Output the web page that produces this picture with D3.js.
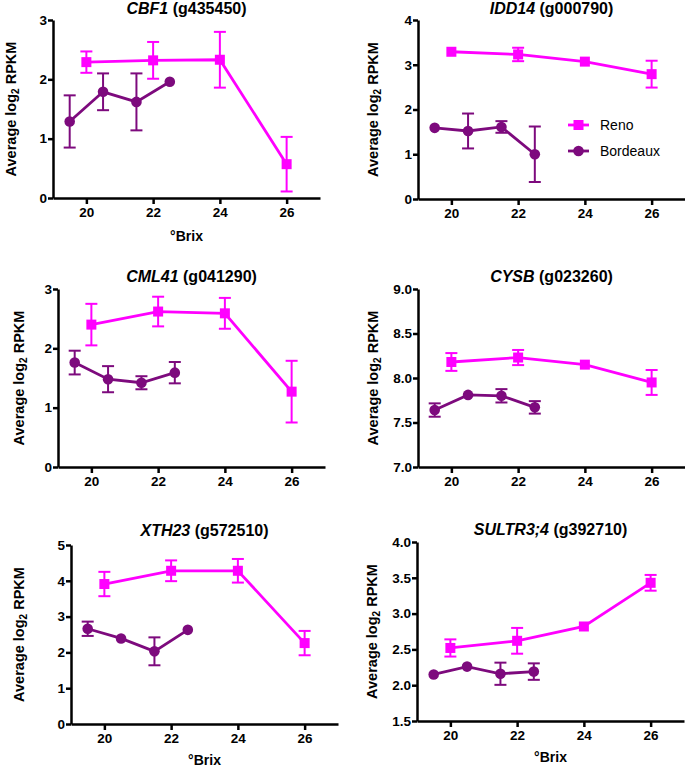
<!DOCTYPE html>
<html>
<head>
<meta charset="utf-8">
<script src="https://cdn.jsdelivr.net/npm/d3@7"></script>
<style>
  body { margin: 0; background: #fff; }
  svg text { font-family: "Liberation Sans", Arial, sans-serif; }
</style>
</head>
<body>
<svg id="chart" width="685" height="767"></svg>
<script>
// x positions (°Brix) for each site
var brixReno = [20, 22, 24, 26];
var brixBordeaux = [19.5, 20.5, 21.5, 22.5];
var xTicks = [20, 22, 24, 26];

var geneNames = ['CBF1', 'IDD14', 'CML41', 'CYSB', 'XTH23', 'SULTR3;4'];
var geneIds = ['g435450', 'g000790', 'g041290', 'g023260', 'g572510', 'g392710'];

// mean log2 RPKM and error (+/-)
var renoMean = [
  [2.29, 2.32, 2.33, 0.57],
  [3.29, 3.23, 3.07, 2.79],
  [2.40, 2.62, 2.59, 1.27],
  [8.18, 8.23, 8.15, 7.95],
  [3.91, 4.28, 4.28, 2.26],
  [2.52, 2.62, 2.82, 3.43]
];
var renoErr = [
  [0.18, 0.31, 0.47, 0.46],
  [0.04, 0.15, 0.05, 0.30],
  [0.35, 0.25, 0.26, 0.52],
  [0.10, 0.085, 0.03, 0.14],
  [0.34, 0.29, 0.33, 0.34],
  [0.12, 0.18, 0.03, 0.11]
];
var bordeauxMean = [
  [1.29, 1.79, 1.62, 1.96],
  [1.59, 1.52, 1.61, 1.00],
  [1.76, 1.48, 1.42, 1.59],
  [7.64, 7.81, 7.80, 7.67],
  [2.66, 2.39, 2.03, 2.63],
  [2.15, 2.26, 2.16, 2.19]
];
var bordeauxErr = [
  [0.44, 0.31, 0.48, 0],
  [0.04, 0.39, 0.13, 0.62],
  [0.20, 0.22, 0.11, 0.18],
  [0.075, 0.02, 0.075, 0.07],
  [0.20, 0.04, 0.39, 0.03],
  [0.02, 0.02, 0.155, 0.115]
];
var yDomains = [[0, 3], [0, 4], [0, 3], [7, 9], [0, 5], [1.5, 4]];
var yTickValues = [
  [0, 1, 2, 3],
  [0, 1, 2, 3, 4],
  [0, 1, 2, 3],
  [7.0, 7.5, 8.0, 8.5, 9.0],
  [0, 1, 2, 3, 4, 5],
  [1.5, 2.0, 2.5, 3.0, 3.5, 4.0]
];
var yTickFormat = ['d', 'd', 'd', '.1f', 'd', '.1f'];

var RENO = '#ff00ff';
var BORDEAUX = '#7d0a7d';

// panel placement on the page
var layout = [
  { x0: 53, x1: 320, top: 20, bottom: 198, titleY: 14, labelX: 11, brixY: 241 },
  { x0: 418, x1: 685, top: 20, bottom: 199, titleY: 14, labelX: 373, brixY: null, legend: true },
  { x0: 58, x1: 325, top: 289, bottom: 467, titleY: 282, labelX: 19, brixY: null },
  { x0: 418, x1: 685, top: 289, bottom: 467, titleY: 282, labelX: 373, brixY: null },
  { x0: 71, x1: 338, top: 545, bottom: 724, titleY: 536, labelX: 19, brixY: 765 },
  { x0: 417, x1: 684, top: 542, bottom: 721, titleY: 535, labelX: 372, brixY: 762 }
];

var svg = d3.select('#chart');

for (var i = 0; i < geneNames.length; i++) {
  drawPanel(i);
}

function drawPanel(i) {
  var L = layout[i];
  var x = d3.scaleLinear().domain([19, 27]).range([L.x0, L.x1]);
  var y = d3.scaleLinear().domain(yDomains[i]).range([L.bottom, L.top]);
  var g = svg.append('g');

  // axes
  var xAxis = d3.axisBottom(x).tickValues(xTicks).tickSize(6).tickSizeOuter(0).tickPadding(3);
  var yAxis = d3.axisLeft(y).tickValues(yTickValues[i]).tickSize(5).tickSizeOuter(0)
      .tickPadding(1).tickFormat(d3.format(yTickFormat[i]));

  var gx = g.append('g').attr('transform', 'translate(0,' + L.bottom + ')').call(xAxis);
  var gy = g.append('g').attr('transform', 'translate(' + L.x0 + ',0)').call(yAxis);
  [gx, gy].forEach(function(a) {
    a.select('.domain').attr('stroke', '#000').attr('stroke-width', 2.5);
    a.selectAll('.tick line').attr('stroke', '#000').attr('stroke-width', 2.5);
    a.selectAll('.tick text').attr('fill', '#000').style('font-size', '13.5px')
      .style('font-weight', 'bold').style('font-family', '"Liberation Sans", Arial, sans-serif');
  });

  // title
  var t = g.append('text')
      .attr('x', (L.x0 + L.x1) / 2)
      .attr('y', L.titleY)
      .attr('text-anchor', 'middle')
      .style('font-size', '16px')
      .style('font-weight', 'bold');
  t.append('tspan').style('font-style', 'italic').text(geneNames[i]);
  t.append('tspan').text(' (' + geneIds[i] + ')');

  // y label
  var yl = g.append('text')
      .attr('transform', 'translate(' + L.labelX + ',' + ((L.top + L.bottom) / 2) + ') rotate(-90)')
      .attr('text-anchor', 'middle')
      .attr('dy', '0.35em')
      .style('font-size', '14.5px')
      .style('font-weight', 'bold');
  yl.append('tspan').text('Average log');
  yl.append('tspan').attr('baseline-shift', '-25%').style('font-size', '10px').text('2');
  yl.append('tspan').text(' RPKM');

  if (L.brixY) {
    g.append('text')
      .attr('x', x(23))
      .attr('y', L.brixY)
      .attr('text-anchor', 'middle')
      .style('font-size', '14px')
      .style('font-weight', 'bold')
      .text('°Brix');
  }

  drawSeries(g, x, y, brixBordeaux, bordeauxMean[i], bordeauxErr[i], BORDEAUX, 'circle');
  drawSeries(g, x, y, brixReno, renoMean[i], renoErr[i], RENO, 'square');

  if (L.legend) {
    drawLegend(g);
  }
}

function drawSeries(g, x, y, xs, means, errs, color, shape) {
  var pts = xs.map(function(v, k) { return { x: v, m: means[k], e: errs[k] }; });

  var line = d3.line().x(function(d) { return x(d.x); }).y(function(d) { return y(d.m); });
  g.append('path').datum(pts)
    .attr('d', line)
    .attr('fill', 'none')
    .attr('stroke', color)
    .attr('stroke-width', 2.8);

  // error bars (skip the ones hidden behind the marker)
  var bars = pts.filter(function(d) { return Math.abs(y(d.m + d.e) - y(d.m)) > 5; });
  var eb = g.selectAll(null).data(bars).enter().append('g')
      .attr('stroke', color).attr('stroke-width', 2);
  eb.append('line')
    .attr('x1', function(d) { return x(d.x); })
    .attr('x2', function(d) { return x(d.x); })
    .attr('y1', function(d) { return y(d.m + d.e); })
    .attr('y2', function(d) { return y(d.m - d.e); });
  eb.append('line')
    .attr('x1', function(d) { return x(d.x) - 6; })
    .attr('x2', function(d) { return x(d.x) + 6; })
    .attr('y1', function(d) { return y(d.m + d.e); })
    .attr('y2', function(d) { return y(d.m + d.e); });
  eb.append('line')
    .attr('x1', function(d) { return x(d.x) - 6; })
    .attr('x2', function(d) { return x(d.x) + 6; })
    .attr('y1', function(d) { return y(d.m - d.e); })
    .attr('y2', function(d) { return y(d.m - d.e); });

  drawMarkers(g, pts.map(function(d) { return [x(d.x), y(d.m)]; }), color, shape);
}

function drawMarkers(g, xy, color, shape) {
  if (shape === 'square') {
    g.selectAll(null).data(xy).enter().append('rect')
      .attr('x', function(d) { return d[0] - 5; })
      .attr('y', function(d) { return d[1] - 5; })
      .attr('width', 10)
      .attr('height', 10)
      .attr('fill', color);
  } else {
    g.selectAll(null).data(xy).enter().append('circle')
      .attr('cx', function(d) { return d[0]; })
      .attr('cy', function(d) { return d[1]; })
      .attr('r', 5.3)
      .attr('fill', color);
  }
}

function drawLegend(g) {
  var items = [
    { name: 'Reno', color: RENO, shape: 'square', y: 125 },
    { name: 'Bordeaux', color: BORDEAUX, shape: 'circle', y: 151 }
  ];
  items.forEach(function(it) {
    g.append('line')
      .attr('x1', 568).attr('x2', 589)
      .attr('y1', it.y).attr('y2', it.y)
      .attr('stroke', it.color).attr('stroke-width', 2.8);
    drawMarkers(g, [[578.5, it.y]], it.color, it.shape);
    g.append('text')
      .attr('x', 600)
      .attr('y', it.y)
      .attr('dy', '0.35em')
      .style('font-size', '14px')
      .text(it.name);
  });
}
</script>
</body>
</html>
